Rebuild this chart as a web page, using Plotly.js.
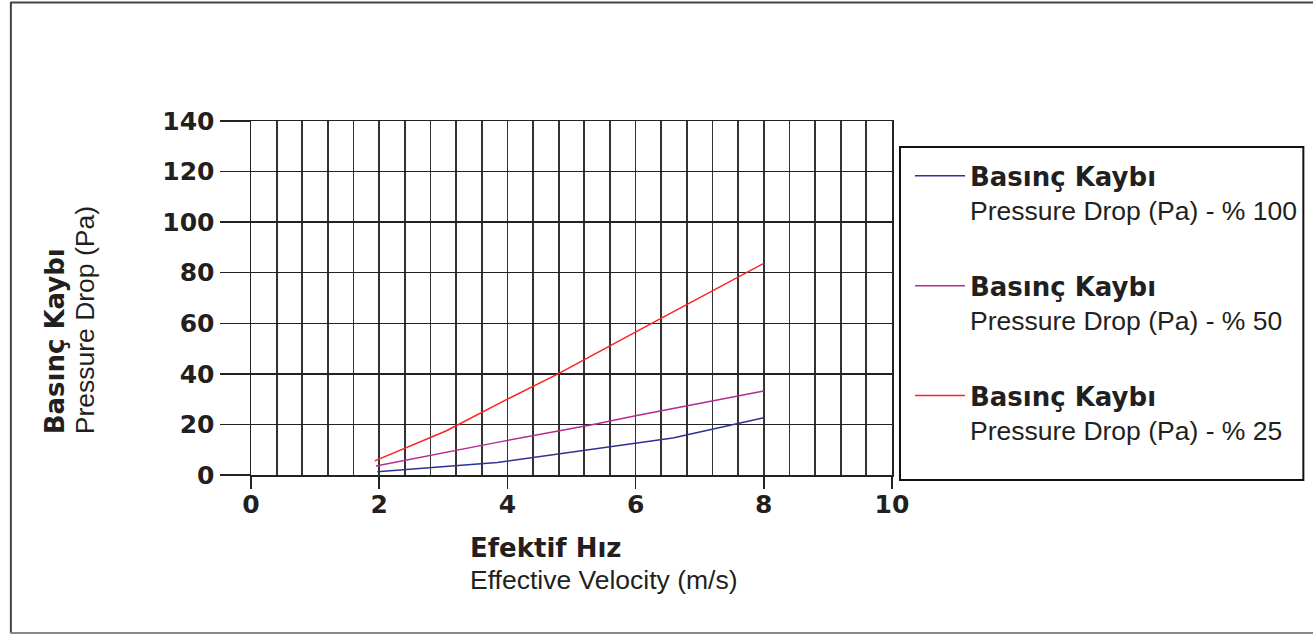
<!DOCTYPE html>
<html>
<head>
<meta charset="utf-8">
<script src="https://cdn.plot.ly/plotly-3.0.1.min.js"></script>
<style>html,body{margin:0;padding:0;background:#fff;}#chart{width:1313px;height:635px;}</style>
</head>
<body>
<div id="chart"></div>
<script>
// Data
const x100 = [1.97, 3.84, 6.58, 7.52, 8.0];
const y100 = [1.3, 4.9, 14.6, 20.0, 22.6];
const x50 = [1.95, 2.84, 3.88, 5.34, 6.0, 8.0];
const y50 = [3.6, 8.1, 13.1, 20.0, 23.4, 33.2];
const x25 = [1.93, 3.05, 4.0, 4.79, 6.25, 7.73, 8.0];
const y25 = [5.6, 17.5, 30.0, 40.0, 60.0, 80.0, 83.7];
const seriesNames = ['% 100', '% 50', '% 25'];
const xTicks = [0, 2, 4, 6, 8, 10];
const yTicks = [0, 20, 40, 60, 80, 100, 120, 140];

const BOLD = 'DejaVu Sans';
const REG = 'Liberation Sans, Arial, sans-serif';
const colors = ['#2e3192', '#b62b93', '#ff2020'];

function legendText(n) {
  return '<span style="font-family:DejaVu Sans;font-weight:bold;font-size:26px">Basınç Kaybı</span><br>Pressure Drop (Pa) - ' + n;
}

const traces = [[x100, y100], [x50, y50], [x25, y25]].map((d, i) => ({
  x: d[0], y: d[1], type: 'scatter', mode: 'lines',
  line: {color: colors[i], width: 1.5},
  name: legendText(seriesNames[i]),
  legendgroup: 'g' + i,
  hoverinfo: 'x+y'
}));

const L = 251, T = 121, W = 642, H = 354;
function px(p) { return (p - L) / W; }
function py(p) { return (T + H - p) / H; }

const layout = {
  width: 1313, height: 635,
  margin: {l: L, r: 1313 - L - W, t: T, b: 635 - T - H},
  paper_bgcolor: '#fff', plot_bgcolor: '#fff',
  showlegend: true,
  legend: {
    x: px(910), y: py(152), xanchor: 'left', yanchor: 'top',
    bgcolor: 'rgba(0,0,0,0)', borderwidth: 0,
    font: {family: REG, size: 26.5, color: '#231f20'},
    traceorder: 'grouped', tracegroupgap: 38, valign: 'top',
    itemwidth: 50
  },
  xaxis: {
    range: [0, 10], tickvals: xTicks, ticktext: xTicks.map(String),
    ticks: 'outside', ticklen: 12, tickwidth: 1.5, tickcolor: '#222',
    ticklabelstandoff: -6,
    showgrid: true, gridcolor: '#333', gridwidth: 1.8,
    minor: {dtick: 0.4, tick0: 0, showgrid: true, gridcolor: '#333', gridwidth: 1.8, ticks: ''},
    showline: true, linecolor: '#222', linewidth: 1.5, mirror: true,
    zeroline: false, fixedrange: true,
    tickfont: {family: BOLD, size: 25, color: '#231f20', weight: 'bold'}
  },
  yaxis: {
    range: [0, 140], tickvals: yTicks, ticktext: yTicks.map(String),
    ticks: 'outside', ticklen: 30, tickwidth: 1.5, tickcolor: '#222',
    showgrid: true, gridcolor: '#222', gridwidth: 1.5,
    showline: true, linecolor: '#222', linewidth: 1.5, mirror: true,
    zeroline: false, fixedrange: true,
    tickfont: {family: BOLD, size: 25, color: '#231f20', weight: 'bold'}
  },
  annotations: [
    {xref: 'paper', yref: 'paper', x: px(55), y: py(436), xanchor: 'center', yanchor: 'bottom',
     textangle: -90, showarrow: false, text: 'Basınç Kaybı',
     font: {family: BOLD, size: 26, color: '#231f20', weight: 'bold'}},
    {xref: 'paper', yref: 'paper', x: px(85), y: py(436), xanchor: 'center', yanchor: 'bottom',
     textangle: -90, showarrow: false, text: 'Pressure Drop (Pa)',
     font: {family: REG, size: 26.5, color: '#231f20'}},
    {xref: 'paper', yref: 'paper', x: px(468), y: py(548), xanchor: 'left', yanchor: 'middle',
     showarrow: false, text: 'Efektif Hız',
     font: {family: BOLD, size: 26, color: '#231f20', weight: 'bold'}},
    {xref: 'paper', yref: 'paper', x: px(468), y: py(580), xanchor: 'left', yanchor: 'middle',
     showarrow: false, text: 'Effective Velocity (m/s)',
     font: {family: REG, size: 26.5, color: '#231f20'}}
  ],
  shapes: [
    {type: 'rect', xref: 'paper', yref: 'paper', x0: px(901), x1: px(1305), y0: py(147), y1: py(480), line: {color: '#111', width: 2}},
    {type: 'line', xref: 'paper', yref: 'paper', x0: px(10.5), x1: px(10.5), y0: py(2), y1: py(633), line: {color: '#444', width: 2}},
    {type: 'line', xref: 'paper', yref: 'paper', x0: px(10), x1: px(1320), y0: py(2.5), y1: py(2.5), line: {color: '#444', width: 2}},
    {type: 'line', xref: 'paper', yref: 'paper', x0: px(10), x1: px(1320), y0: py(633), y1: py(633), line: {color: '#888', width: 2}}
  ]
};

Plotly.newPlot('chart', traces, layout, {displayModeBar: false, staticPlot: true});
</script>
</body>
</html>
